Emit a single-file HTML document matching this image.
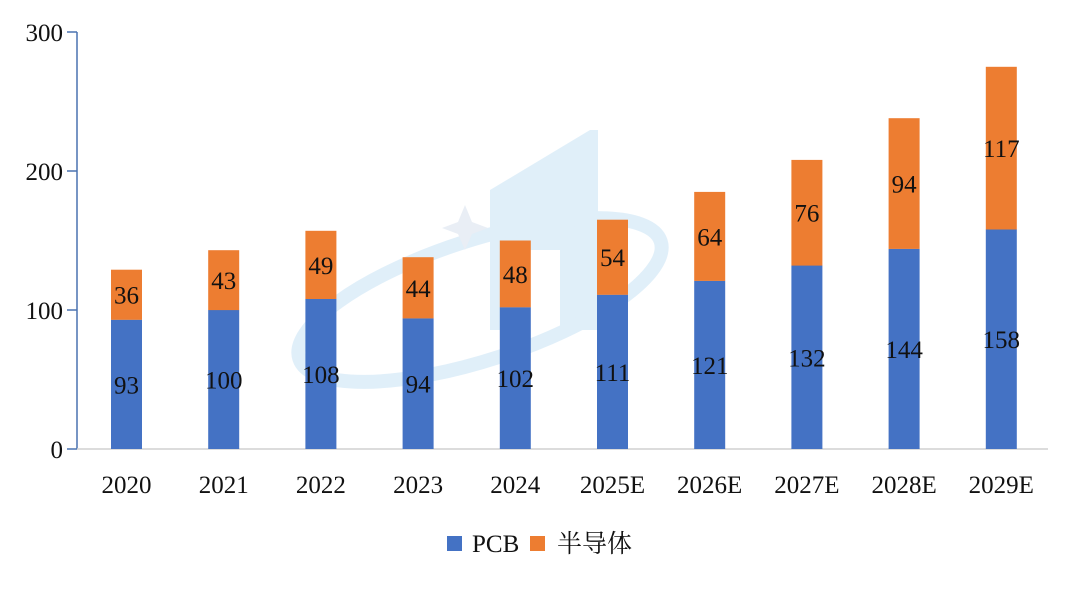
<!DOCTYPE html>
<html><head><meta charset="utf-8"><style>
html,body{margin:0;padding:0;background:#fff;}
svg text{font-family:"Liberation Serif","Noto Serif CJK SC",serif;}
</style></head><body>
<svg width="1080" height="585" viewBox="0 0 1080 585" xmlns="http://www.w3.org/2000/svg">
<rect width="1080" height="585" fill="#fff"/>
<g opacity="0.3">
<polygon points="490,190 590,130 598,130 598,330 560,330 560,250 525,250 525,330 490,330" fill="#9ccbec"/>
<ellipse cx="480" cy="300" rx="190" ry="60" transform="rotate(-18 480 300)" fill="none" stroke="#9ccbec" stroke-width="14"/>
<polygon points="465,205 472,222 488,228 472,234 465,250 458,234 442,228 458,222" fill="#b8c8e0"/>
</g>
<line x1="77" y1="32" x2="77" y2="449" stroke="#4a72b0" stroke-width="1.5"/>
<line x1="77" y1="449" x2="1048" y2="449" stroke="#d0d0d0" stroke-width="1.5"/>
<g stroke="#4a72b0" stroke-width="1.5">
<line x1="67" y1="32" x2="77" y2="32"/><line x1="67" y1="171" x2="77" y2="171"/>
<line x1="67" y1="310" x2="77" y2="310"/><line x1="67" y1="449" x2="77" y2="449"/>
</g>
<g font-size="25" fill="#111" text-anchor="end">
<text x="63" y="41">300</text><text x="63" y="180">200</text><text x="63" y="319">100</text><text x="63" y="458">0</text>
</g>
<g fill="#4472C4">
<rect x="111" y="319.7" width="31" height="129.3"/>
<rect x="208.2" y="310" width="31" height="139"/>
<rect x="305.4" y="298.9" width="31" height="150.1"/>
<rect x="402.6" y="318.3" width="31" height="130.7"/>
<rect x="499.8" y="307.2" width="31" height="141.8"/>
<rect x="597" y="294.7" width="31" height="154.3"/>
<rect x="694.2" y="280.8" width="31" height="168.2"/>
<rect x="791.4" y="265.5" width="31" height="183.5"/>
<rect x="888.6" y="248.8" width="31" height="200.2"/>
<rect x="985.8" y="229.4" width="31" height="219.6"/>
</g>
<g fill="#ED7D31">
<rect x="111" y="269.7" width="31" height="50.1"/>
<rect x="208.2" y="250.2" width="31" height="59.9"/>
<rect x="305.4" y="230.8" width="31" height="68.2"/>
<rect x="402.6" y="257.2" width="31" height="61.2"/>
<rect x="499.8" y="240.5" width="31" height="66.8"/>
<rect x="597" y="219.7" width="31" height="75.1"/>
<rect x="694.2" y="191.9" width="31" height="89"/>
<rect x="791.4" y="159.9" width="31" height="105.7"/>
<rect x="888.6" y="118.2" width="31" height="130.7"/>
<rect x="985.8" y="66.8" width="31" height="162.7"/>
</g>
<g font-size="25" fill="#111" text-anchor="middle">
<text x="126.5" y="393.4">93</text><text x="126.5" y="303.7">36</text><text x="126.5" y="493">2020</text>
<text x="223.7" y="388.5">100</text><text x="223.7" y="289.1">43</text><text x="223.7" y="493">2021</text>
<text x="320.9" y="382.9">108</text><text x="320.9" y="273.8">49</text><text x="320.9" y="493">2022</text>
<text x="418.1" y="392.7">94</text><text x="418.1" y="296.8">44</text><text x="418.1" y="493">2023</text>
<text x="515.3" y="387.1">102</text><text x="515.3" y="282.9">48</text><text x="515.3" y="493">2024</text>
<text x="612.5" y="380.9">111</text><text x="612.5" y="266.2">54</text><text x="612.5" y="493">2025E</text>
<text x="709.7" y="373.9">121</text><text x="709.7" y="245.3">64</text><text x="709.7" y="493">2026E</text>
<text x="806.9" y="366.3">132</text><text x="806.9" y="221.7">76</text><text x="806.9" y="493">2027E</text>
<text x="904.1" y="358">144</text><text x="904.1" y="192.5">94</text><text x="904.1" y="493">2028E</text>
<text x="1001.3" y="348.2">158</text><text x="1001.3" y="157.1">117</text><text x="1001.3" y="493">2029E</text>
</g>
<rect x="447" y="536" width="15" height="15" fill="#4472C4"/>
<text x="472" y="552" font-size="25" fill="#111">PCB</text>
<rect x="530" y="536" width="15" height="15" fill="#ED7D31"/>
<text x="557" y="552" font-size="25" fill="#111" style='font-family:"Noto Serif CJK SC",serif'>半导体</text>
</svg>
</body></html>
